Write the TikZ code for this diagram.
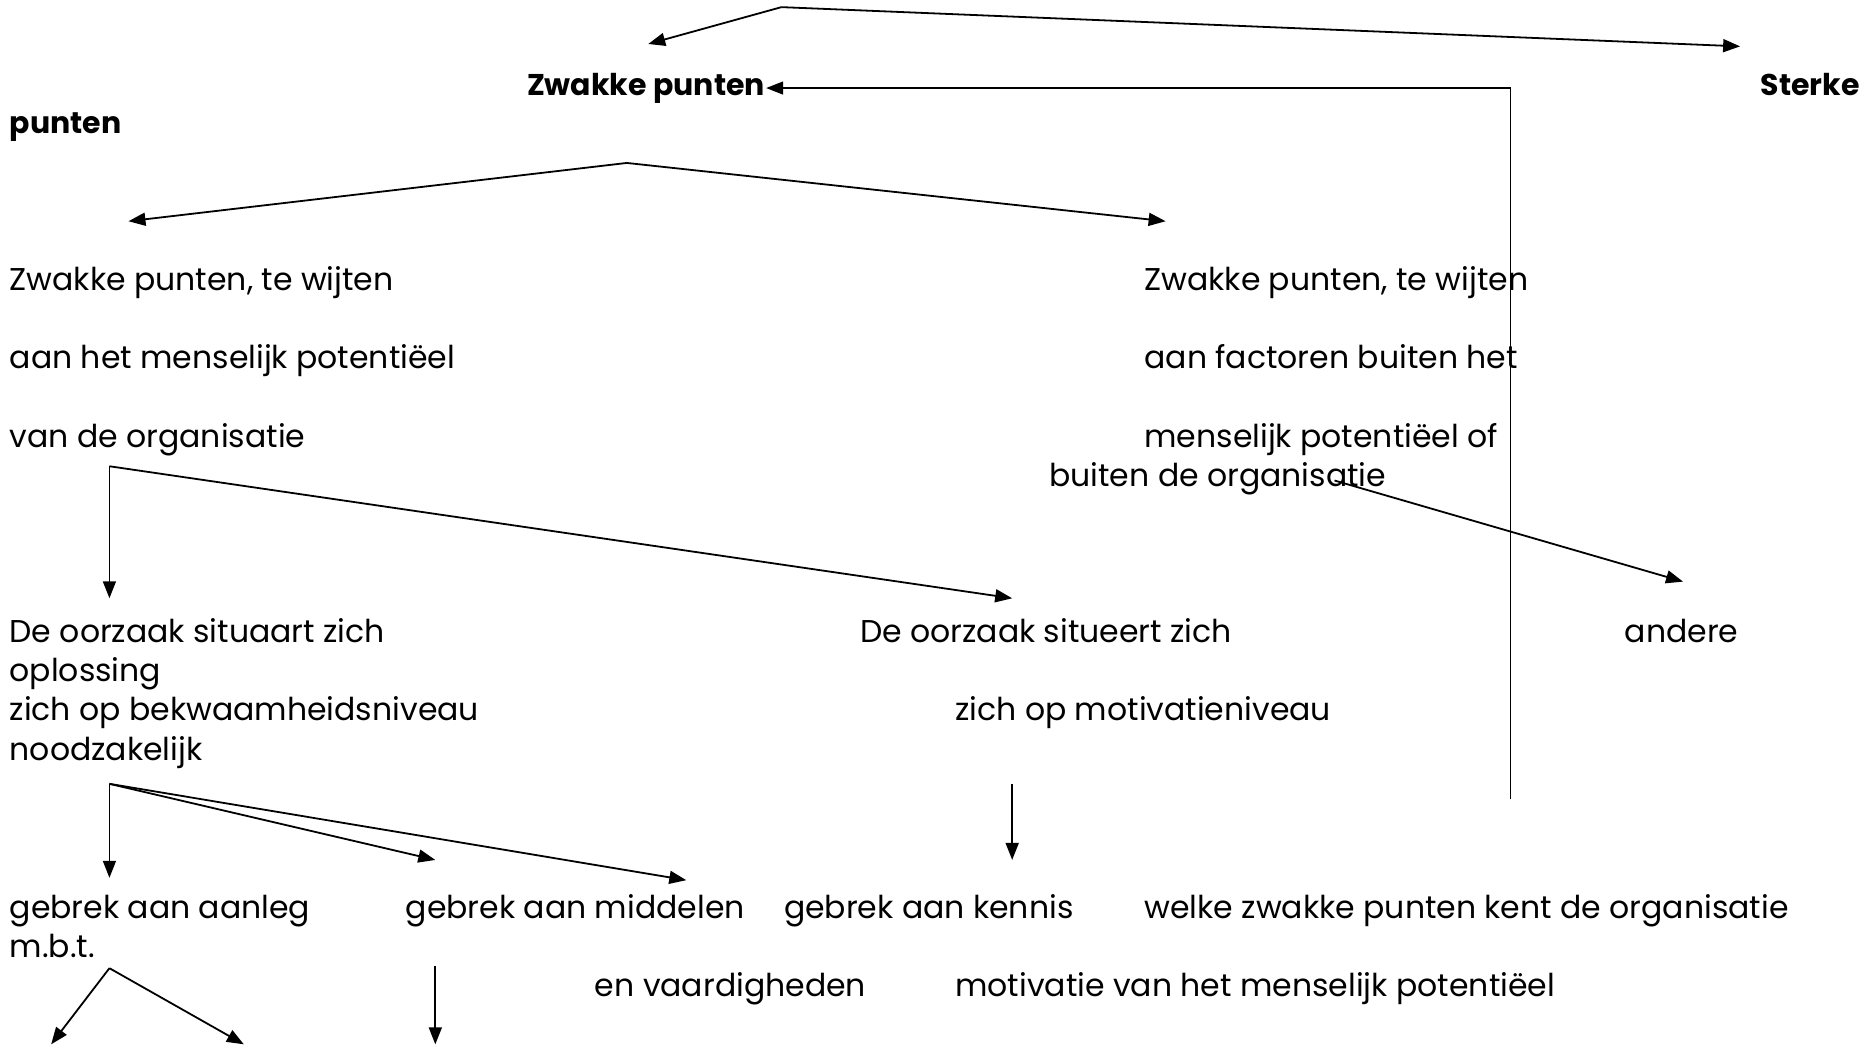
\documentclass[tikz,border=0pt]{standalone}
\usepackage{fontspec}
\setmainfont{Poppins}
\usetikzlibrary{arrows.meta}
\begin{document}
\begin{tikzpicture}[x=1.1894pt,y=-1.1894pt,
  txt/.style={anchor=base west,inner sep=0pt,font=\fontsize{31.5}{36}\selectfont},
  btxt/.style={txt,font=\fontsize{30}{36}\selectfont\bfseries},
  arr/.style={line width=1.8pt,-{Triangle[length=17pt,width=13pt]}},
  longline/.style={line width=1.3pt,-{Triangle[length=17pt,width=13pt]}}]
\useasboundingbox (0,0) rectangle (1568,881);
% texts
\node[btxt] (zw) at (443,80) {Zwakke punten};
\node[btxt] (st) at (1480,80) {Sterke};
\node[btxt] (st2) at (8,112) {punten};
\node[txt] (l1) at (8,244) {Zwakke punten, te wijten};
\node[txt] (l2) at (8,310) {aan het menselijk potentiëel};
\node[txt] (l3) at (8,376) {van de organisatie};
\node[txt] (r1) at (962,244) {Zwakke punten, te wijten};
\node[txt] (r2) at (962,310) {aan factoren buiten het};
\node[txt] (r3) at (962,376) {menselijk potentiëel of};
\node[txt] (r4) at (882,409) {buiten de organisatie};
\node[txt] (a1) at (8,540) {De oorzaak situaart zich};
\node[txt] (a2) at (8,573) {oplossing};
\node[txt] (a3) at (8,606) {zich op bekwaamheidsniveau};
\node[txt] (a4) at (8,639) {noodzakelijk};
\node[txt] (b1) at (723,540) {De oorzaak situeert zich};
\node[txt] (b2) at (803,606) {zich op motivatieniveau};
\node[txt] (an) at (1366,540) {andere};
\node[txt] (g1) at (8,772) {gebrek aan aanleg};
\node[txt] (g1b) at (8,805) {m.b.t.};
\node[txt] (g2) at (341,772) {gebrek aan middelen};
\node[txt] (g3) at (659,772) {gebrek aan kennis};
\node[txt] (g4) at (962,772) {welke zwakke punten kent de organisatie};
\node[txt] (g3b) at (500,838) {en vaardigheden};
\node[txt] (g4b) at (803,838) {motivatie van het menselijk potentiëel};
% coordinates
\coordinate (j1) at (657,6);
\coordinate (t1) at (545,37);
\coordinate (t2) at (1463,39);
\coordinate (lb) at (1270,672);
\coordinate (j2) at (527,137);
\coordinate (t3) at (108,186);
\coordinate (t4) at (980,186);
\coordinate (j3) at (92,392);
\coordinate (t5) at (92,503);
\coordinate (t6) at (851,503);
\coordinate (j6) at (1122,404);
\coordinate (t7) at (1415,489);
\coordinate (j4) at (92,659);
\coordinate (t8) at (92,738);
\coordinate (t9) at (366,723);
\coordinate (t10) at (577,740);
\coordinate (j7) at (851,659);
\coordinate (t11) at (851,723);
\coordinate (j5) at (92,814);
\coordinate (t12) at (43,878);
\coordinate (t13) at (205,878);
\coordinate (j8) at (366,812);
\coordinate (t14) at (366,878);
% connectors
\draw[arr] (j1) -- (t1);
\draw[arr] (j1) -- (t2);
\draw[longline] (lb) |- ([xshift=1pt]zw.east);
\draw[arr] (j2) -- (t3);
\draw[arr] (j2) -- (t4);
\draw[arr] (j3) -- (t5);
\draw[arr] (j3) -- (t6);
\draw[arr] (j6) -- (t7);
\draw[arr] (j4) -- (t8);
\draw[arr] (j4) -- (t9);
\draw[arr] (j4) -- (t10);
\draw[arr] (j7) -- (t11);
\draw[arr] (j5) -- (t12);
\draw[arr] (j5) -- (t13);
\draw[arr] (j8) -- (t14);
\end{tikzpicture}
\end{document}
